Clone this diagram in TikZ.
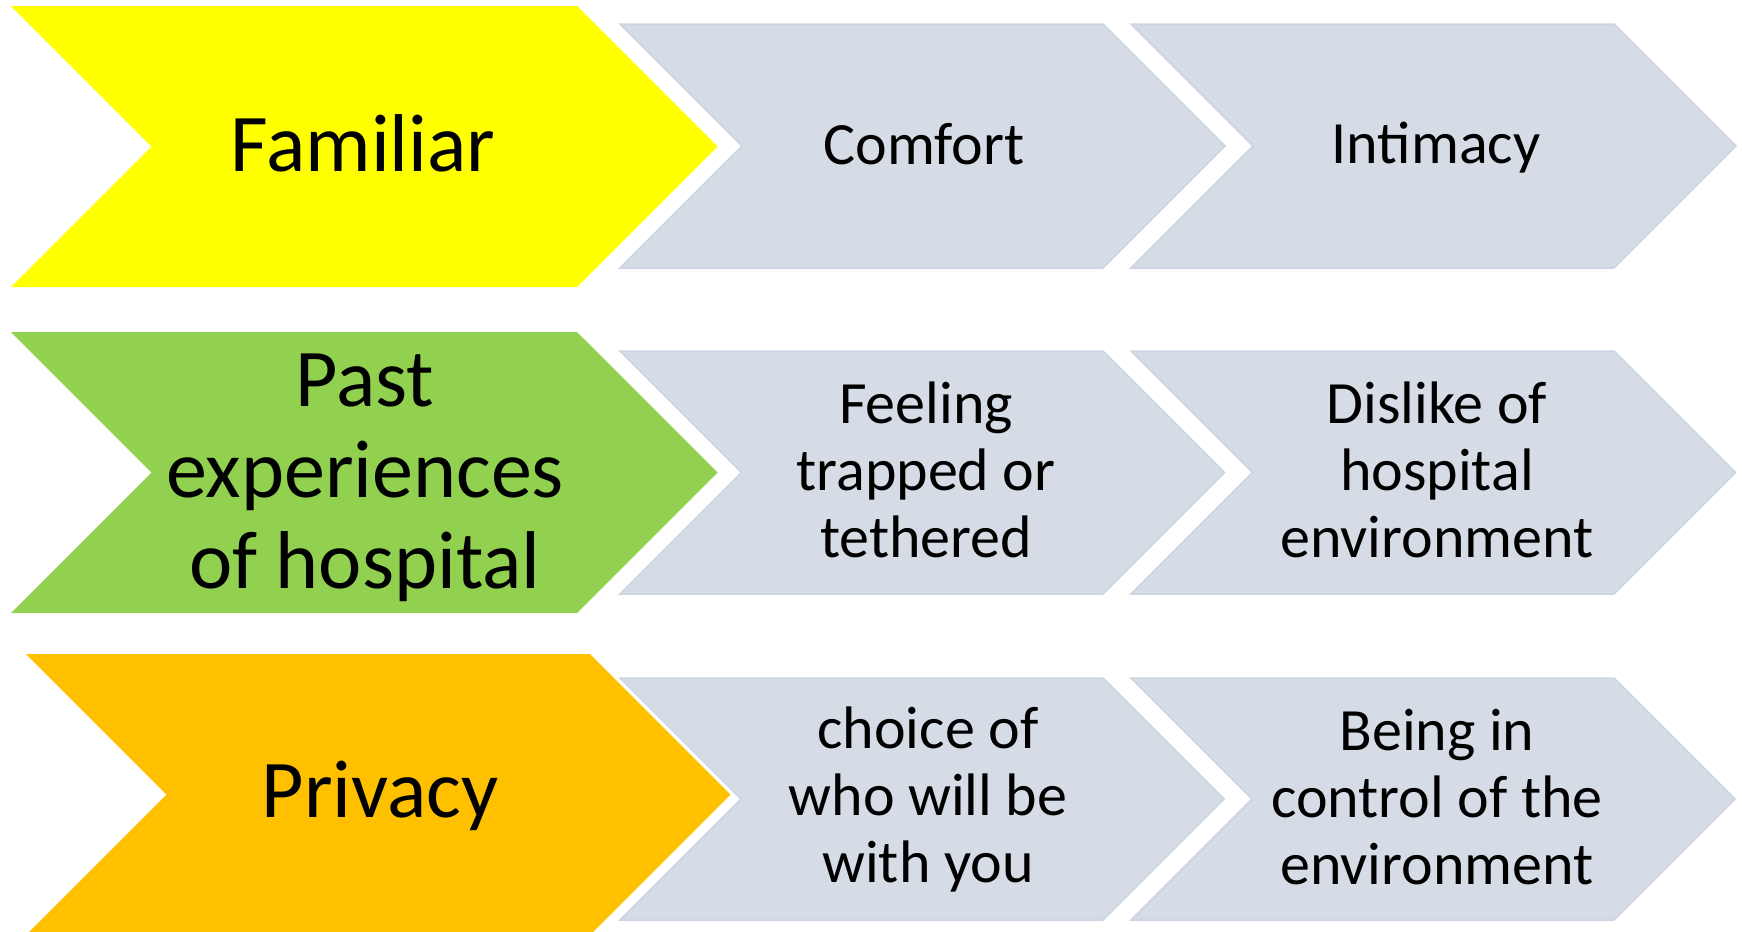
\documentclass[tikz,border=0pt]{standalone}
\usepackage{fontspec}
\setmainfont{Carlito}

\definecolor{famyellow}{HTML}{FFFF00}
\definecolor{pastgreen}{HTML}{92D050}
\definecolor{privorange}{HTML}{FFC000}
\definecolor{chevgrey}{HTML}{D6DCE5}
\definecolor{chevline}{HTML}{CDD4E3}

% chevron: style, left x, top y, width to shoulder, height
\newcommand{\chevron}[5]{%
  \path[#1] (#2,#3) -- ({#2+#4},#3) -- ({#2+#4+#5/2},{#3+#5/2})
    -- ({#2+#4},{#3+#5}) -- (#2,{#3+#5}) -- ({#2+#5/2},{#3+#5/2}) -- cycle;}

\tikzset{
  theme/.style={font=\fontsize{41}{45.5}\selectfont, align=center, inner sep=0pt},
  detail/.style={font=\fontsize{30}{33.5}\selectfont, align=center, inner sep=0pt},
  greychev/.style={fill=chevgrey, draw=chevline, line width=0.75pt},
}

\begin{document}
\begin{tikzpicture}[x=0.5pt, y=-0.5pt]
	\useasboundingbox (0,0) rectangle (1742,932);

	% row 1
	\chevron{fill=famyellow}{11}{6}{566}{281}
	\chevron{greychev}{620}{24}{483}{244}
	\chevron{greychev}{1131}{24}{483}{244}
	\node[theme]  (familiar) at (363,143)  {Familiar};
	\node[detail] (comfort)  at (924,144)  {Comfort};
	\node[detail] (intimacy) at (1436,148) {Intimacy};

	% row 2
	\chevron{fill=pastgreen}{11}{332}{566}{281}
	\chevron{greychev}{620}{351}{483}{243}
	\chevron{greychev}{1131}{351}{483}{243}
	\node[theme]  (past)     at (365,478)  {Past\\experiences\\of hospital};
	\node[detail] (feeling)  at (926,470)  {Feeling\\trapped or\\tethered};
	\node[detail] (dislike)  at (1437,470) {Dislike of\\hospital\\environment};

	% row 3
	\chevron{fill=privorange}{26}{654}{564}{281}
	\chevron{greychev}{620}{678}{483}{242}
	\chevron{greychev}{1131}{678}{483}{242}
	\node[theme]  (privacy)  at (380,796)  {Privacy};
	\node[detail] (choice)   at (928,799)  {choice of\\who will be\\with you};
	\node[detail] (control)  at (1437,797) {Being in\\control of the\\environment};
\end{tikzpicture}
\end{document}
